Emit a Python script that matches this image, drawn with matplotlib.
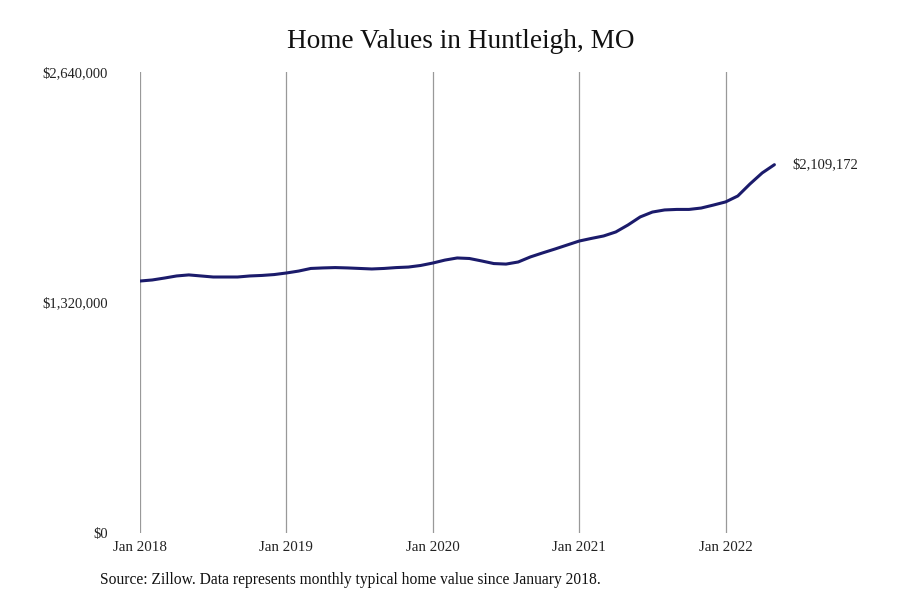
import numpy as np
import matplotlib.pyplot as plt

# typical home value, monthly, Jan 2018 - May 2022
values = [1443000, 1449000, 1460000, 1472000, 1478000, 1472000, 1466000, 1466000,
          1466000, 1472000, 1475000, 1480000, 1489000, 1500000, 1515000, 1518000,
          1520000, 1518000, 1515000, 1512000, 1515000, 1520000, 1523000, 1532000,
          1546000, 1563000, 1575000, 1572000, 1558000, 1543000, 1540000, 1552000,
          1581000, 1604000, 1626000, 1649000, 1672000, 1687000, 1701000, 1724000,
          1764000, 1810000, 1838000, 1850000, 1853000, 1853000, 1861000, 1878000,
          1896000, 1930000, 1999000, 2062000, 2109172]
tick_months = [0, 12, 24, 36, 48]
tick_labels = ["Jan 2018", "Jan 2019", "Jan 2020", "Jan 2021", "Jan 2022"]
y_ticks = [0, 1320000, 2640000]
y_labels = ["$0", "$1,320,000", "$2,640,000"]
last_label = "$2,109,172"

plt.rcParams['font.family'] = ['Liberation Serif', 'DejaVu Serif']

fig = plt.figure(figsize=(9, 6), dpi=100)
ax = fig.add_axes([140/900, 67/600, 732/900, 461/600])

months = np.arange(len(values))
ax.plot(months, values, color='#1b1b6b', lw=2.2, solid_capstyle='round')
ax.text(months[-1] + 1.5, values[-1], last_label, fontsize=10.5, va='center', ha='left', color='#222222')

ax.set_xlim(0, 60)
ax.set_ylim(0, 2640000)
ax.set_xticks(tick_months)
ax.set_xticklabels(tick_labels, fontsize=10.8, color='#222222')
ax.set_yticks(y_ticks)
ax.set_yticklabels(y_labels, fontsize=10.5, color='#222222')
ax.tick_params(length=0)
ax.tick_params(axis='y', pad=23)
ax.tick_params(axis='x', pad=6)
ax.grid(axis='x', color='#999999', lw=0.9)
ax.set_axisbelow(True)
for s in ax.spines.values():
    s.set_visible(False)

fig.text(461/900, 1 - 42/600, "Home Values in Huntleigh, MO", fontsize=19.6, ha='center', va='center', color='#111111')
fig.text(100/900, 1 - 580/600, "Source: Zillow. Data represents monthly typical home value since January 2018.",
         fontsize=11.2, ha='left', va='center', color='#111111')

fig.savefig('out.png', dpi=100)
